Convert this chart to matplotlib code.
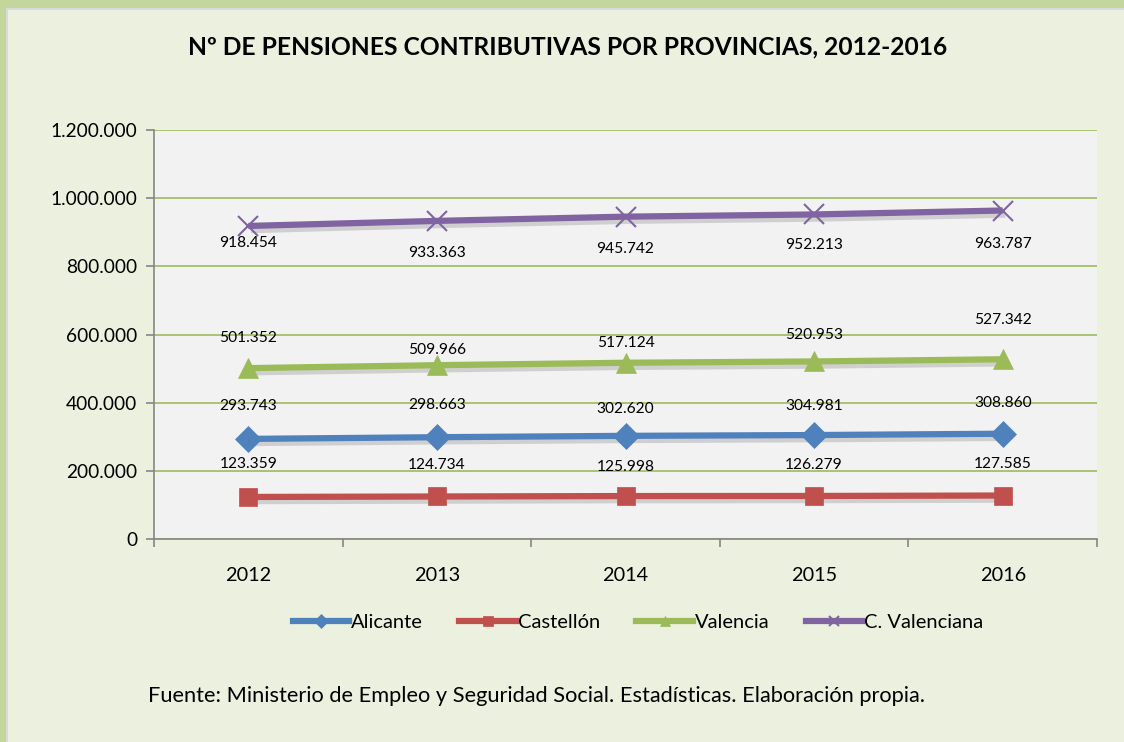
import matplotlib
matplotlib.use("Agg")
import matplotlib.pyplot as plt
import matplotlib.patheffects as pe
from matplotlib.patches import Rectangle
from matplotlib.lines import Line2D

years = ["2012", "2013", "2014", "2015", "2016"]
alicante = [293743, 298663, 302620, 304981, 308860]
castellon = [123359, 124734, 125998, 126279, 127585]
valencia = [501352, 509966, 517124, 520953, 527342]
c_valenciana = [918454, 933363, 945742, 952213, 963787]
series_names = ["Alicante", "Castellón", "Valencia", "C. Valenciana"]
yticks = [0, 200000, 400000, 600000, 800000, 1000000, 1200000]
title = "Nº DE PENSIONES CONTRIBUTIVAS POR PROVINCIAS, 2012-2016"
source = "Fuente: Ministerio de Empleo y Seguridad Social. Estadísticas. Elaboración propia."

# label offsets in points (vertical), per series/point
lab_off = {
    "Alicante": [24, 23, 19, 21, 22],
    "Castellón": [24, 23, 21, 22, 23],
    "Valencia": [22, 11, 14, 19, 28],
    "C. Valenciana": [-12, -23, -23, -22, -24],
}

def fmt(v):
    return f"{v:,}".replace(",", ".")

plt.rcParams["font.family"] = ["Lato", "DejaVu Sans"]

W, H = 1124, 742
fig = plt.figure(figsize=(W / 100, H / 100), dpi=100)
fig.patch.set_facecolor("#ebf1de")
# green frame top & left
fig.add_artist(Rectangle((0, 1 - 8 / H), 1, 8 / H, transform=fig.transFigure,
                         facecolor="#c3d69b", edgecolor="none"))
fig.add_artist(Rectangle((0, 0), 6 / W, 1, transform=fig.transFigure,
                         facecolor="#c3d69b", edgecolor="none"))
fig.add_artist(Rectangle((6 / W, 0), 2 / W, 1 - 8 / H, transform=fig.transFigure,
                         facecolor="#d9d9d9", edgecolor="none"))
fig.add_artist(Rectangle((6 / W, 1 - 10 / H), 1, 2 / H, transform=fig.transFigure,
                         facecolor="#d9d9d9", edgecolor="none"))

left, right, top, bottom = 154, 1097, 130, 539
ax = fig.add_axes([left / W, 1 - bottom / H, (right - left) / W, (bottom - top) / H])
ax.set_facecolor("#f2f2f2")

x = list(range(len(years)))
styles = [
    (alicante, "#4f81bd", "D", 13, 0.5),
    (castellon, "#c0504d", "s", 13, 0.5),
    (valencia, "#9bbb59", "^", 14, 0.5),
    (c_valenciana, "#8064a2", "x", 14, 1.5),
]
shadow = [pe.SimpleLineShadow(offset=(2, -3), shadow_color="#808080", alpha=0.3), pe.Normal()]
handles = []
for (vals, col, mk, ms, mew), name in zip(styles, series_names):
    ax.plot(x, vals, color=col, lw=4.5, solid_capstyle="butt", zorder=3, path_effects=shadow)
    ax.plot(x, vals, ls="none", marker=mk, markersize=ms, markerfacecolor=col,
            markeredgecolor=col, markeredgewidth=mew, zorder=4)
    for xi, v, dy in zip(x, vals, lab_off[name]):
        ax.annotate(fmt(v), (xi, v), xytext=(0, dy), textcoords="offset points",
                    ha="center", va="center", fontsize=11.2, color="black", zorder=5)
    handles.append(Line2D([0], [0], color=col, lw=4.5, marker=mk, markersize=ms * 0.55,
                          markerfacecolor=col, markeredgecolor=col, markeredgewidth=mew))

ax.set_xlim(-0.5, len(years) - 0.5)
ax.set_ylim(0, 1200000)
ax.set_yticks(yticks)
ax.set_yticklabels([fmt(v) for v in yticks], fontsize=13.8)
ax.set_xticks(x)
ax.set_xticklabels(years, fontsize=14.3)
ax.tick_params(axis="x", length=0, pad=20)
ax.set_xticks([i - 0.5 for i in range(len(years) + 1)], minor=True)
ax.tick_params(axis="x", which="minor", length=6, color="#868686", width=1.2, direction="out")
ax.tick_params(axis="y", length=6, color="#868686", width=1.2, direction="out", pad=6)
ax.grid(axis="y", color="#9bbb59", lw=1.2, zorder=1)
ax.set_axisbelow(True)
for s in ["top", "right"]:
    ax.spines[s].set_visible(False)
ax.spines["left"].set_color("#868686")
ax.spines["left"].set_linewidth(1.2)
ax.spines["bottom"].set_color("#868686")
ax.spines["bottom"].set_linewidth(1.2)

fig.text(568 / W, 1 - 47 / H, title, ha="center", va="center", fontsize=17.7, fontweight="bold")
fig.legend(handles, series_names, loc="center", bbox_to_anchor=(638 / W, 1 - 622 / H),
           ncol=4, frameon=False, fontsize=14.5, handlelength=2.8, handletextpad=0.1,
           columnspacing=1.8)
fig.text(148 / W, 1 - 696 / H, source, ha="left", va="center", fontsize=15.7)

fig.savefig("out.png", dpi=100, facecolor=fig.get_facecolor())
